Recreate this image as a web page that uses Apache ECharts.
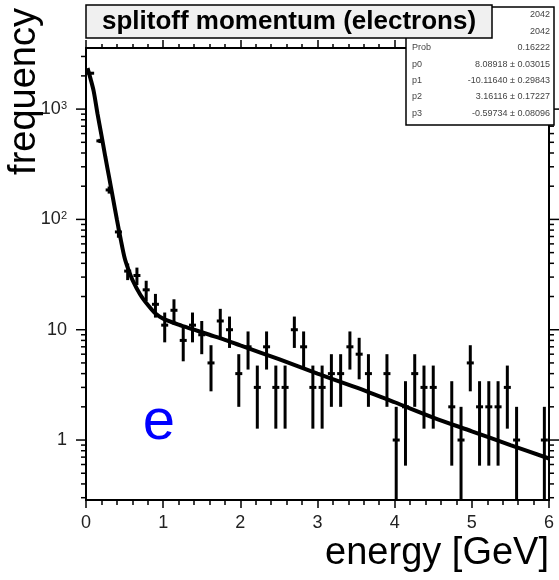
<!DOCTYPE html>
<html>
<head>
<meta charset="utf-8">
<script src="https://cdn.jsdelivr.net/npm/echarts@6/dist/echarts.min.js"></script>
<style>
html,body{margin:0;padding:0;background:#fff;}
#chart{width:559px;height:580px;}
</style>
</head>
<body>
<div id="chart"></div>
<script>
// ---- data ----
const binWidth = 0.12; // GeV, 50 bins from 0 to 6
const counts = [2115, 515, 185, 77, 34, 31, 23, 17, 11, 15,
                8, 11, 9, 5, 12, 10, 4, 7, 3, 7,
                3, 3, 10, 7, 3, 3, 4, 4, 7, 6,
                4, 0, 4, 1, 2, 4, 3, 3, 0, 2,
                1, 5, 2, 2, 2, 3, 1, 0, 0, 1];
const fitX = [0.02, 0.06, 0.1, 0.15, 0.2, 0.25, 0.3, 0.35, 0.4, 0.45, 0.5, 0.55, 0.6, 0.7, 0.8, 0.9,
              1.0, 1.2, 1.4, 1.6, 1.8, 2.0, 2.5, 3.0, 3.5, 4.0, 4.5, 5.0, 5.5, 6.0];
const fitY = [2350, 1870, 1450, 900, 580, 370, 240, 155, 100, 66, 45, 35, 28.5, 21, 16.8, 14,
              12.6, 11.1, 10.0, 9.0, 8.1, 7.2, 5.4, 4.0, 3.0, 2.2, 1.6, 1.2, 0.9, 0.68];
const xTickLabels = ['0', '1', '2', '3', '4', '5', '6'];
const yMajorTicks = [1, 10, 100, 1000];
const yMinorTicks = [0.3, 0.4, 0.5, 0.6, 0.7, 0.8, 0.9, 2, 3, 4, 5, 6, 7, 8, 9,
                     20, 30, 40, 50, 60, 70, 80, 90, 200, 300, 400, 500, 600, 700, 800, 900, 2000, 3000];
const yMin = 0.286, yMax = 3580;
const titleText = 'splitoff momentum (electrons)';
const xTitle = 'energy [GeV]';
const yTitle = 'frequency';
const particleLabel = 'e';
const statsLabels = ['', '', 'Prob', 'p0', 'p1', 'p2', 'p3'];
const statsValues = ['2042', '2042', '0.16222', '8.08918 \u00b1 0.03015', '-10.11640 \u00b1 0.29843',
                     '3.16116 \u00b1 0.17227', '-0.59734 \u00b1 0.08096'];

// ---- build ----
const FONT = '"Liberation Sans", Arial, Helvetica, sans-serif';
const pointData = [];
counts.forEach((n, k) => { if (n > 0) pointData.push([(k + 0.5) * binWidth, n]); });
const tickData = yMajorTicks.map(v => [0, v, 1]).concat(yMinorTicks.map(v => [0, v, 0]));

const chart = echarts.init(document.getElementById('chart'), null, {renderer: 'canvas'});

function isPow10(v) {
  const l = Math.log10(v);
  return Math.abs(l - Math.round(l)) < 1e-6;
}

const statsElems = [{
  type: 'rect', z: 100, shape: {x: 406, y: 7, width: 148, height: 118},
  style: {fill: '#fff', stroke: '#000', lineWidth: 1.5}
}];
statsLabels.forEach((lab, i) => {
  const y = 15 + i * 16.4;
  if (lab) statsElems.push({type: 'text', z: 101, x: 412, y: y,
    style: {text: lab, font: '9px ' + FONT, fill: '#444', textAlign: 'left', textVerticalAlign: 'middle'}});
  statsElems.push({type: 'text', z: 101, x: 550, y: y,
    style: {text: statsValues[i], font: '9px ' + FONT, fill: '#444', textAlign: 'right', textVerticalAlign: 'middle'}});
});

const option = {
  animation: false,
  backgroundColor: '#fff',
  grid: {left: 86, right: 10, top: 48, bottom: 80, show: true, borderColor: '#000', borderWidth: 2,
         backgroundColor: 'transparent', outerBoundsMode: 'none', containLabel: false},
  xAxis: [{
    type: 'value', position: 'bottom', min: 0, max: 6, interval: 1,
    axisLine: {show: true, lineStyle: {color: '#000', width: 2}},
    axisTick: {show: true, inside: false, length: 8, lineStyle: {color: '#000', width: 1.5}},
    minorTick: {show: true, splitNumber: 5, length: 5, lineStyle: {color: '#000', width: 1.5}},
    axisLabel: {show: true, margin: 14, fontSize: 18, fontFamily: FONT, color: '#222',
                formatter: v => xTickLabels[Math.round(v)] || ''},
    splitLine: {show: false}, minorSplitLine: {show: false}
  }, {
    type: 'value', position: 'top', min: 0, max: 6, interval: 1,
    axisLine: {show: true, lineStyle: {color: '#000', width: 2}},
    axisTick: {show: true, inside: false, length: 8, lineStyle: {color: '#000', width: 1.5}},
    minorTick: {show: true, splitNumber: 5, length: 4, lineStyle: {color: '#000', width: 1.5}},
    axisLabel: {show: false},
    splitLine: {show: false}, minorSplitLine: {show: false}
  }],
  yAxis: [{
    type: 'log', logBase: 10, position: 'left', min: yMin, max: yMax,
    axisLine: {show: true, lineStyle: {color: '#000', width: 2}},
    axisTick: {show: false},
    axisLabel: {
      show: true, margin: 19, fontSize: 18, fontFamily: FONT, color: '#222',
      formatter: function (v) {
        if (!isPow10(v)) return '';
        const e = Math.round(Math.log10(v));
        if (e === 0) return '1';
        if (e === 1) return '10';
        return '10{sup|' + e + '}';
      },
      rich: {sup: {fontSize: 11, fontFamily: FONT, color: '#222', verticalAlign: 'top', padding: [0, 0, 6, 0]}}
    },
    splitLine: {show: false}
  }],
  series: [{
    type: 'custom', name: 'yticks', silent: true, clip: false, z: 1,
    data: tickData,
    encode: {x: 0, y: 1},
    renderItem: function (params, api) {
      const v = api.value(1);
      const major = api.value(2) === 1;
      const len = major ? 10 : 5;
      const pL = api.coord([0, v]);
      const pR = api.coord([6, v]);
      const st = {stroke: '#000', lineWidth: 1.5};
      return {type: 'group', children: [
        {type: 'line', shape: {x1: pL[0] - len, y1: pL[1], x2: pL[0], y2: pL[1]}, style: st},
        {type: 'line', shape: {x1: pR[0], y1: pR[1], x2: pR[0] + len, y2: pR[1]}, style: st}
      ]};
    }
  }, {
    type: 'custom', name: 'data', silent: true, clip: true, z: 3,
    data: pointData,
    encode: {x: 0, y: 1},
    renderItem: function (params, api) {
      const x = api.value(0), n = api.value(1), e = Math.sqrt(n);
      const lo = Math.max(n - e, yMin), hi = Math.min(n + e, yMax);
      const pC = api.coord([x, n]);
      const pLo = api.coord([x, lo]);
      const pHi = api.coord([x, hi]);
      const st = {stroke: '#000', lineWidth: 3};
      return {type: 'group', children: [
        {type: 'line', shape: {x1: pC[0], y1: pLo[1], x2: pC[0], y2: pHi[1]}, style: st},
        {type: 'line', shape: {x1: pC[0] - 3.5, y1: pC[1], x2: pC[0] + 3.5, y2: pC[1]}, style: st}
      ]};
    }
  }, {
    type: 'line', name: 'fit', data: fitX.map((x, i) => [x, fitY[i]]),
    smooth: 0.3, symbol: 'none', showSymbol: false, clip: true, z: 4,
    lineStyle: {color: '#000', width: 4}, silent: true
  }],
  graphic: {
    elements: statsElems.concat([
      {type: 'rect', z: 110, shape: {x: 86, y: 5, width: 406, height: 33},
       style: {fill: '#f0f0f0', stroke: '#000', lineWidth: 1.5}},
      {type: 'text', z: 111, x: 289, y: 22,
       style: {text: titleText, font: 'bold 26px ' + FONT, fill: '#000', textAlign: 'center', textVerticalAlign: 'middle'}},
      {type: 'text', z: 50, x: 549, y: 554,
       style: {text: xTitle, font: '38px ' + FONT, fill: '#000', textAlign: 'right', textVerticalAlign: 'middle'}},
      {type: 'text', z: 50, x: 25, y: 8, rotation: Math.PI / 2,
       style: {text: yTitle, font: '38px ' + FONT, fill: '#000', textAlign: 'right', textVerticalAlign: 'middle'}},
      {type: 'text', z: 50, x: 159, y: 423,
       style: {text: particleLabel, font: '58px ' + FONT, fill: '#0000ff', textAlign: 'center', textVerticalAlign: 'middle'}}
    ])
  }
};
chart.setOption(option);
</script>
</body>
</html>
